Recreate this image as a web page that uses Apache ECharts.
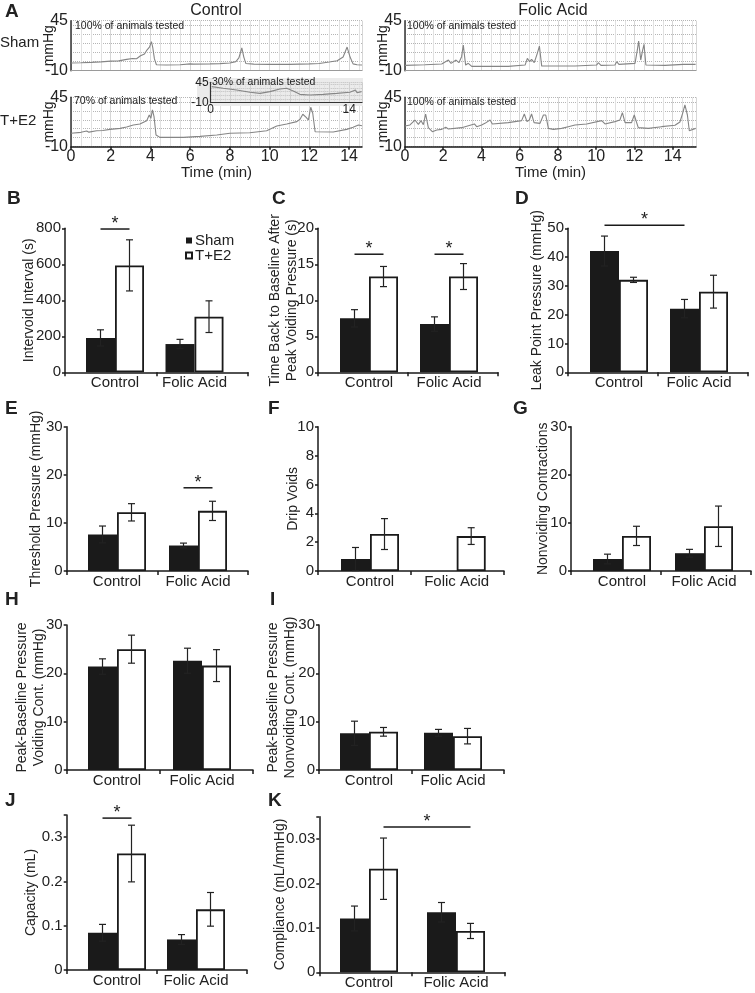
<!DOCTYPE html>
<html><head><meta charset="utf-8">
<script src="https://cdn.jsdelivr.net/npm/echarts@6/dist/echarts.min.js"></script>
<style>html,body{margin:0;padding:0;background:#fff}#c{width:755px;height:993px}</style>
</head><body><div id="c"></div><script>
const FONT = "'Liberation Sans', Arial, Helvetica, sans-serif";
const INK = '#1a1a1a';

// ---------- Panel A: cystometry traces [time (min), pressure (mmHg)] ----------
const traceTickLabels = [0, 2, 4, 6, 8, 10, 12, 14];
const ctrlShamTrace = [[0,-1.5],[0.5,-1.2],[1,-0.8],[1.5,-0.3],[2,0.5],[2.4,0.8],[2.8,2.5],[3.1,3.5],[3.3,3.2],[3.5,6.5],[3.7,8.5],[3.8,12],[3.88,10],[3.95,16],[4.05,22],[4.12,15],[4.2,3],[4.3,-3.5],[4.8,-3.8],[5.5,-3.5],[6,-2.5],[6.05,-0.5],[6.15,-2.8],[7,-2.5],[7.5,-2.2],[8,-1.5],[8.3,0],[8.45,4],[8.6,15],[8.7,5],[8.8,-2],[9.2,-2.8],[10,-3],[11,-3],[12,-2.5],[12.5,-2],[13,-0.5],[13.4,1],[13.7,5],[13.9,16],[14.05,5],[14.2,-2.5],[14.4,-3.5],[14.65,-3.8]];
const ctrlTE2Trace = [[0,4.9],[0.5,6],[0.79,7.5],[0.9,6.2],[1.29,7.8],[1.6,8],[1.96,9.3],[2.47,10.4],[2.8,12],[3.14,14.2],[3.47,15.3],[3.81,19],[3.94,25.3],[4.02,21.6],[4.1,30.9],[4.18,23.5],[4.28,3],[4.48,0.4],[5.66,0.4],[6.5,1.5],[7.34,3],[8,4.9],[9,5.6],[9.85,7.8],[10.36,13],[10.86,15.3],[11.37,17.9],[11.53,20.5],[11.67,26.1],[11.84,22.7],[11.95,19.7],[12.07,33.9],[12.17,27.2],[12.29,6.7],[13.2,6.4],[13.88,9.3],[14.2,11.6],[14.47,14.2],[14.65,13.4]];
const ctrlTE2InsetTrace = [[0.1,33.3],[1.27,28.8],[2.62,24.3],[3.97,18],[4.98,15.2],[5.99,19.8],[7,27],[7.68,28.8],[8.35,21.6],[9.02,12.5],[10.03,10.7],[11.37,12.5],[12.73,15.2],[14.07,18],[14.64,24.3],[14.8,17],[15.25,19.8]];
const folicShamTrace = [[0,-4.1],[1.05,-3.4],[1.92,-2.7],[2.27,1.7],[2.41,-1.9],[2.67,1.7],[2.82,-1.2],[2.96,5.4],[3.05,18.2],[3.17,-3.8],[3.31,-1.9],[3.49,-5.2],[5.4,-5.2],[6.28,-3.8],[6.4,3.6],[6.52,-0.1],[6.62,2.5],[6.76,-1.2],[6.92,9.1],[7.03,17.1],[7.15,-4.9],[8.89,-4.9],[10.02,-3.8],[10.11,-1.2],[10.25,-4.1],[10.98,-3.8],[11.07,-0.1],[11.19,-3],[12.03,-1.9],[12.15,12.7],[12.22,22.6],[12.33,1.7],[12.43,12.7],[12.5,19],[12.6,-3.8],[13.6,-4.1],[14.56,-3],[14.64,-1.2],[14.73,-3],[15.2,-3]];
const folicTE2Trace = [[0,13],[0.26,14.2],[0.52,19.7],[0.7,14.9],[0.84,19],[0.96,14.5],[1.08,26.4],[1.22,11.2],[1.43,6.7],[1.66,8.6],[1.92,9.3],[2.13,11.6],[2.27,9.7],[2.96,11.2],[3.63,15.3],[3.75,12.3],[4.01,14.2],[4.18,16],[4.45,19.7],[4.57,15.3],[5.4,16.8],[6.1,19],[6.24,26.4],[6.38,17.9],[6.5,19.7],[6.62,26.4],[6.75,16.8],[7.06,16],[7.24,25.3],[7.36,25.3],[7.5,10.4],[7.76,9.3],[8.19,10.4],[8.54,12.3],[8.89,14.2],[9.5,15.3],[10.29,19],[10.46,15.3],[10.98,17.9],[11.24,19.7],[11.37,27.9],[11.51,16.8],[11.85,16.8],[11.99,25.3],[12.2,11.2],[12.73,10.4],[13.42,12.3],[14.12,13.8],[14.38,17.5],[14.52,27.2],[14.64,36.5],[14.77,25.3],[14.87,7.8],[15.2,10.4]];

// ---------- Bar panels B-K: group means and SEM ----------
const categories = ['Control', 'Folic Acid'];
const groupNames = ['Sham', 'T+E2'];
const intervalSham = [191, 157], intervalShamErr = [45, 26];
const intervalTE2 = [594, 309], intervalTE2Err = [142, 88];
const backSham = [7.5, 6.7], backShamErr = [1.2, 1.0];
const backTE2 = [13.3, 13.3], backTE2Err = [1.4, 1.8];
const leakSham = [42.1, 22.1], leakShamErr = [5.2, 3.2];
const leakTE2 = [32.1, 28.0], leakTE2Err = [0.9, 5.7];
const threshSham = [7.6, 5.3], threshShamErr = [1.75, 0.5];
const threshTE2 = [12.2, 12.5], threshTE2Err = [1.8, 2.0];
const dripSham = [0.83, 0], dripShamErr = [0.8, 0];
const dripTE2 = [2.56, 2.42], dripTE2Err = [1.07, 0.58];
const nvcSham = [2.5, 3.7], nvcShamErr = [1.0, 0.8];
const nvcTE2 = [7.3, 9.3], nvcTE2Err = [2.0, 4.2];
const pbVoidSham = [21.4, 22.6], pbVoidShamErr = [1.6, 2.6];
const pbVoidTE2 = [25.0, 21.6], pbVoidTE2Err = [2.9, 3.3];
const pbNonSham = [7.6, 7.7], pbNonShamErr = [2.5, 0.7];
const pbNonTE2 = [7.9, 7.0], pbNonTE2Err = [0.9, 1.6];
const capSham = [0.084, 0.069], capShamErr = [0.019, 0.011];
const capTE2 = [0.263, 0.137], capTE2Err = [0.064, 0.038];
const compSham = [0.0121, 0.0135], compShamErr = [0.0028, 0.0022];
const compTE2 = [0.0233, 0.0093], compTE2Err = [0.0069, 0.0017];

// ---------- layout ----------
const BAR_W = 29;
const fmtJ = v => v > 0.34 ? '' : String(Math.round(v * 10) / 10);
const fmtK = v => v > 0.034 ? '' : String(Math.round(v * 100) / 100);
const barPanels = [
  {x0:65, x1:248, top:228.3, bottom:372.3, centers:[115,194.5], max:800, interval:200, name:'Intervoid Interval (s)', nameGap:27, d:[intervalSham,intervalShamErr,intervalTE2,intervalTE2Err], sig:[[[0,0],[0,1],796]]},
  {x0:318, x1:498, top:228.3, bottom:372.3, centers:[369,449], max:20, interval:5, name:'Time Back to Baseline After\nPeak Voiding Pressure (s)', nameGap:17, d:[backSham,backShamErr,backTE2,backTE2Err], sig:[[[0,0],[0,1],16.4],[[1,0],[1,1],16.4]]},
  {x0:568, x1:748, top:228.3, bottom:372.3, centers:[619,699], max:50, interval:10, name:'Leak Point Pressure (mmHg)', nameGap:22, d:[leakSham,leakShamErr,leakTE2,leakTE2Err], sig:[[[0,0],[1,0],51.1]]},
  {x0:66.7, x1:248, top:426.7, bottom:571, centers:[117,198], max:30, interval:10, name:'Threshold Pressure (mmHg)', nameGap:22, d:[threshSham,threshShamErr,threshTE2,threshTE2Err], sig:[[[1,0],[1,1],17.3]]},
  {x0:318, x1:504, top:426.7, bottom:571, centers:[370,456.7], max:10, interval:2, name:'Drip Voids', nameGap:16, d:[dripSham,dripShamErr,dripTE2,dripTE2Err], sig:[]},
  {x0:571, x1:751, top:426.7, bottom:571, centers:[622,704], max:30, interval:10, name:'Nonvoiding Contractions', nameGap:19, d:[nvcSham,nvcShamErr,nvcTE2,nvcTE2Err], sig:[]},
  {x0:66.7, x1:253, top:625, bottom:770, centers:[117,202], max:30, interval:10, name:'Peak-Baseline Pressure\nVoiding Cont. (mmHg)', nameGap:19, d:[pbVoidSham,pbVoidShamErr,pbVoidTE2,pbVoidTE2Err], sig:[]},
  {x0:319, x1:504, top:625, bottom:770, centers:[369,453], max:30, interval:10, name:'Peak-Baseline Pressure\nNonvoiding Cont. (mmHg)', nameGap:20, d:[pbNonSham,pbNonShamErr,pbNonTE2,pbNonTE2Err], sig:[]},
  {x0:66.7, x1:247, top:815, bottom:970, centers:[117,196], max:0.35, interval:0.1, name:'Capacity (mL)', nameGap:27, d:[capSham,capShamErr,capTE2,capTE2Err], sig:[[[0,0],[0,1],0.343]], fmt:fmtJ},
  {x0:319.3, x1:505, top:816.7, bottom:972.3, centers:[369,456], max:0.035, interval:0.01, name:'Compliance (mL/mmHg)', nameGap:31, d:[compSham,compShamErr,compTE2,compTE2Err], sig:[[[0,1],[1,1],0.0327]], fmt:fmtK}
];

const option = {animation:false, backgroundColor:'#fff', textStyle:{fontFamily:FONT}, grid:[], xAxis:[], yAxis:[], series:[],
  legend:{data:groupNames, orient:'vertical', left:185, top:233, padding:0, itemWidth:6, itemHeight:6, itemGap:0, icon:'rect',
    textStyle:{fontSize:15, lineHeight:15, color:'#222', fontFamily:FONT, padding:[0,0,0,-2]}, selectedMode:false}};
function addGrid(g){ option.grid.push(Object.assign({containLabel:false}, g)); return option.grid.length - 1; }
const axisLineStyle = {color:INK, width:1.5};
const txtStyle = {color:'#222', fontFamily:FONT};

// ---------- traces ----------
const traceFmt = v => (Math.abs(v - Math.round(v)) < 1e-6 && traceTickLabels.includes(Math.round(v))) ? String(Math.round(v)) : '';
const traceSpecs = [
  {left:71, top:20.7, width:291, height:50, xMax:14.65, data:ctrlShamTrace, labels:false},
  {left:71, top:97.3, width:291, height:49.4, xMax:14.65, data:ctrlTE2Trace, labels:true},
  {left:405, top:20.7, width:291, height:50, xMax:15.22, data:folicShamTrace, labels:false},
  {left:405, top:97.3, width:291, height:49.4, xMax:15.22, data:folicTE2Trace, labels:true}
];
traceSpecs.forEach(s => {
  const gi = addGrid({left:s.left, top:s.top, width:s.width, height:s.height});
  option.xAxis.push({gridIndex:gi, type:'value', min:0, max:s.xMax, interval:2,
    axisLine:{show:true, onZero:false, lineStyle:s.labels ? axisLineStyle : {color:'#9a9a9a', width:1}},
    axisTick:{show:s.labels, length:3, lineStyle:axisLineStyle},
    axisLabel:Object.assign({show:s.labels, fontSize:16, margin:2, showMaxLabel:false, formatter:traceFmt}, txtStyle),
    splitLine:{show:true, lineStyle:{color:'#d6d6d6', width:1}},
    minorTick:{show:false, splitNumber:4}, minorSplitLine:{show:true, lineStyle:{color:'#e1e1e1', width:1}},
    name:s.labels ? 'Time (min)' : '', nameLocation:'middle', nameGap:19, nameMoveOverlap:false,
    nameTextStyle:Object.assign({fontSize:15}, txtStyle)});
  option.yAxis.push({gridIndex:gi, type:'value', min:-10, max:45, interval:10,
    axisLine:{show:true, onZero:false, lineStyle:{color:'#333', width:1.5}}, axisTick:{show:false},
    axisLabel:Object.assign({fontSize:16, margin:3, formatter:v => (v === 45 || v === -10) ? String(v) : ''}, txtStyle),
    splitLine:{show:true, lineStyle:{type:'dotted', color:'#b5b5b5', width:1}},
    name:'mmHg', nameLocation:'middle', nameGap:15, nameMoveOverlap:false, nameTextStyle:Object.assign({fontSize:14}, txtStyle)});
  option.series.push({type:'line', xAxisIndex:gi, yAxisIndex:gi, data:s.data, showSymbol:false, symbol:'none',
    lineStyle:{color:'#858585', width:1.1}, z:3});
});
// inset
(function(){
  const gi = addGrid({left:210.7, top:82.3, width:151.3, height:20.4});
  option.xAxis.push({gridIndex:gi, type:'value', min:0, max:15.3, interval:2, z:20,
    axisLine:{show:true, onZero:false, lineStyle:{color:'#333', width:1.2}}, axisTick:{show:false},
    axisLabel:Object.assign({fontSize:12, margin:1, showMaxLabel:false, formatter:v => (v === 0 || v === 14) ? String(v) : ''}, txtStyle),
    splitLine:{show:true, lineStyle:{color:'#cfcfcf', width:1}},
    minorTick:{show:false, splitNumber:4}, minorSplitLine:{show:true, lineStyle:{color:'#d9d9d9', type:'dotted'}}});
  option.yAxis.push({gridIndex:gi, type:'value', min:-10, max:45, interval:10, z:20,
    axisLine:{show:true, onZero:false, lineStyle:{color:'#333', width:1.2}}, axisTick:{show:false},
    axisLabel:Object.assign({fontSize:12, margin:2, formatter:v => (v === 45 || v === -10) ? String(v) : ''}, txtStyle),
    splitLine:{show:true, lineStyle:{type:'dotted', color:'#bdbdbd'}}});
  option.series.push({type:'line', xAxisIndex:gi, yAxisIndex:gi, data:ctrlTE2InsetTrace, showSymbol:false, symbol:'none',
    lineStyle:{color:'#858585', width:1.1}, z:21});
})();

// ---------- bar panels ----------
function errSeries(ax, means, errs, dir){
  return {type:'custom', xAxisIndex:ax, yAxisIndex:ax, z:6,
    data:means.map((m, i) => [i, m, errs[i]]),
    renderItem:(params, api) => {
      const e = api.value(2); if (!e) return null;
      const m = api.value(1), i = api.value(0);
      const t = api.coord([i, m + e]), b = api.coord([i, m - e]);
      const x = t[0] + dir * BAR_W / 2, cap = 3.5;
      const st = {stroke:'#222', lineWidth:1.2};
      return {type:'group', children:[
        {type:'line', shape:{x1:x, y1:t[1], x2:x, y2:b[1]}, style:st},
        {type:'line', shape:{x1:x - cap, y1:t[1], x2:x + cap, y2:t[1]}, style:st},
        {type:'line', shape:{x1:x - cap, y1:b[1], x2:x + cap, y2:b[1]}, style:st}]};
    }};
}
barPanels.forEach(p => {
  const h = p.bottom - p.top;
  const full = addGrid({left:p.x0, top:p.top, width:p.x1 - p.x0, height:h});
  option.xAxis.push({gridIndex:full, type:'category', data:categories,
    axisLine:{show:true, lineStyle:axisLineStyle}, axisTick:{show:true, length:4, lineStyle:axisLineStyle},
    axisLabel:{show:false}, splitLine:{show:false}});
  option.yAxis.push({gridIndex:full, type:'value', min:0, max:p.max, interval:p.interval,
    name:p.name, nameLocation:'middle', nameGap:p.nameGap, nameMoveOverlap:false,
    nameTextStyle:Object.assign({fontSize:14, lineHeight:17}, txtStyle),
    axisLine:{show:true, lineStyle:axisLineStyle}, axisTick:{show:true, length:3, lineStyle:axisLineStyle},
    axisLabel:Object.assign({fontSize:15, margin:4}, txtStyle, p.fmt ? {formatter:p.fmt} : {}), splitLine:{show:false}});
  const cw = p.centers[1] - p.centers[0];
  const nar = addGrid({left:p.centers[0] - cw / 2, top:p.top, width:2 * cw, height:h});
  option.xAxis.push({gridIndex:nar, type:'category', data:categories, axisLine:{show:false}, axisTick:{show:false},
    axisLabel:Object.assign({fontSize:15, margin:3, interval:0, hideOverlap:false}, txtStyle)});
  option.yAxis.push({gridIndex:nar, type:'value', min:0, max:p.max, interval:p.interval, show:false});
  p.nar = nar;
  option.series.push({name:groupNames[0], type:'bar', xAxisIndex:nar, yAxisIndex:nar, data:p.d[0], barWidth:BAR_W, barGap:'0%',
    itemStyle:{color:INK}});
  option.series.push({name:groupNames[1], type:'bar', xAxisIndex:nar, yAxisIndex:nar, data:p.d[2], barWidth:BAR_W, barGap:'0%',
    itemStyle:{color:'#fff', borderColor:INK, borderWidth:1.8}});
  option.series.push(errSeries(nar, p.d[0], p.d[1], -1));
  option.series.push(errSeries(nar, p.d[2], p.d[3], 1));
});

const chart = echarts.init(document.getElementById('c'), null, {width:755, height:993});
chart.setOption(option);

// ---------- annotations ----------
function txt(str, x, y, size, o){
  o = o || {};
  return {type:'text', x:x, y:y, z:o.z || 50, style:{text:str, fontSize:size, fontFamily:FONT, fontWeight:o.bold ? 'bold' : 'normal',
    fill:o.fill || '#222', textAlign:o.align || 'left', textVerticalAlign:o.valign || 'middle'}};
}
const graphics = [
  {type:'rect', shape:{x:197, y:78, width:166, height:28}, style:{fill:'#ebebeb'}, z:10},
  txt('A', 5, 11.5, 19, {bold:true}),
  txt('Control', 216, 11, 16, {align:'center'}),
  txt('Folic Acid', 553, 11, 16, {align:'center'}),
  txt('Sham', 0, 43, 15),
  txt('T+E2', 0, 121, 15),
  txt('100% of animals tested', 75, 26, 10.5),
  txt('70% of animals tested', 74, 101, 10.5),
  txt('100% of animals tested', 407, 26, 10.5),
  txt('100% of animals tested', 407, 102, 10.5),
  txt('30% of animals tested', 212, 82.5, 10.5, {z:30})
];
[['B',7,198.5],['C',272,198.5],['D',515,198.5],['E',5,408.5],['F',268,408.5],['G',513,409],['H',5,599.5],['I',270,599.5],['J',5,801],['K',268,801]]
  .forEach(l => graphics.push(txt(l[0], l[1], l[2], 19, {bold:true})));
barPanels.forEach(p => p.sig.forEach(s => {
  const a = chart.convertToPixel({xAxisIndex:p.nar, yAxisIndex:p.nar}, [s[0][0], s[2]]);
  const b = chart.convertToPixel({xAxisIndex:p.nar, yAxisIndex:p.nar}, [s[1][0], s[2]]);
  const xa = a[0] + (s[0][1] ? 1 : -1) * BAR_W / 2, xb = b[0] + (s[1][1] ? 1 : -1) * BAR_W / 2;
  graphics.push({type:'line', shape:{x1:xa, y1:a[1], x2:xb, y2:a[1]}, style:{stroke:INK, lineWidth:1.5}, z:50});
  graphics.push(txt('*', (xa + xb) / 2, a[1] - 14, 18, {align:'center', valign:'top'}));
}));
chart.setOption({graphic:graphics});
</script></body></html>
